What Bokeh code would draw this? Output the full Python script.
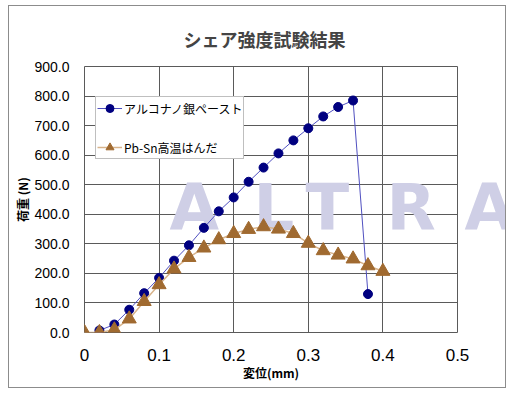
from bokeh.plotting import figure
from bokeh.models import Legend, LegendItem, FixedTicker, NumeralTickFormatter, Label, Range1d
from bokeh.embed import file_html
from bokeh.resources import INLINE

title_text = "シェア強度試験結果"
x_label = "変位(mm)"
y_label = "荷重 (N)"

ag_name = "アルコナノ銀ペースト"
ag_x = [0.02, 0.04, 0.06, 0.08, 0.10, 0.12, 0.14, 0.16, 0.18, 0.20,
        0.22, 0.24, 0.26, 0.28, 0.30, 0.32, 0.34, 0.36, 0.38]
ag_y = [7, 27, 77, 133, 185, 243, 295, 354, 410, 457,
        510, 558, 606, 650, 691, 731, 763, 785, 130]

pb_name = "Pb-Sn高温はんだ"
pb_x = [0.00, 0.02, 0.04, 0.06, 0.08, 0.10, 0.12, 0.14, 0.16, 0.18, 0.20,
        0.22, 0.24, 0.26, 0.28, 0.30, 0.32, 0.34, 0.36, 0.38, 0.40]
pb_y = [0, 0, 9, 46, 105, 162, 215, 254, 286, 314, 335,
        349, 358, 350, 335, 302, 277, 262, 249, 226, 207]

x_ticks = [0, 0.1, 0.2, 0.3, 0.4, 0.5]
y_ticks = [0, 100, 200, 300, 400, 500, 600, 700, 800, 900]
watermark_letters = ["A", "L", "T", "R", "A"]

JP = "Noto Sans CJK JP"
LAT = "Liberation Sans"

p = figure(width=498, height=383, output_backend="svg", toolbar_location=None,
           x_range=Range1d(0, 0.5), y_range=Range1d(0, 900),
           min_border_left=75, min_border_right=45, min_border_top=60, min_border_bottom=57)
p.styles = {"border": "1px solid #8c8c8c", "margin-left": "8px", "margin-top": "5px"}

p.title.text = title_text
p.title.text_font = JP
p.title.text_font_size = "18px"
p.title.text_font_style = "bold"
p.title.align = "left"
p.title.offset = 99
p.title.standoff = 30
p.title.text_line_height = 0.8

p.outline_line_color = "#5a5a5a"
p.outline_line_width = 1

for g in (p.xgrid, p.ygrid):
    g.grid_line_color = "#5a5a5a"
    g.grid_line_width = 1
p.xgrid.ticker = FixedTicker(ticks=x_ticks)
p.ygrid.ticker = FixedTicker(ticks=y_ticks)

p.xaxis.ticker = FixedTicker(ticks=x_ticks)
p.xaxis.formatter = NumeralTickFormatter(format="0.[0]")
p.yaxis.ticker = FixedTicker(ticks=y_ticks)
p.yaxis.formatter = NumeralTickFormatter(format="0.0")

for ax in (p.xaxis, p.yaxis):
    ax.axis_line_color = None
    ax.major_tick_line_color = None
    ax.minor_tick_line_color = None
    ax.major_tick_out = 0
    ax.major_tick_in = 0
    ax.minor_tick_out = 0
    ax.minor_tick_in = 0
    ax.major_label_text_font = LAT
    ax.major_label_text_color = "black"
    ax.axis_label_text_font = JP
    ax.axis_label_text_font_style = "bold"
    ax.axis_label_text_font_size = "12px"
    ax.axis_label_text_color = "black"

p.xaxis.major_label_text_font_size = "17px"
p.xaxis.major_label_standoff = 16
p.xaxis.axis_label = x_label
p.xaxis.axis_label_standoff = 0

p.yaxis.major_label_text_font_size = "14px"
p.yaxis.major_label_standoff = 15
p.yaxis.axis_label = y_label
p.yaxis.axis_label_standoff = 0

# watermark (offsets in screen pixels from the frame's left/bottom);
# the last letter lies beyond the frame, so it goes in the right-hand panel
wm_x = [85, 169, 221, 302]
for ch, sx in zip(watermark_letters[:4], wm_x):
    p.add_layout(Label(x=sx, y=125, x_units="screen", y_units="screen", text=ch,
                       text_font="DejaVu Sans", text_font_style="bold",
                       text_font_size="64px", text_color="#cfcfe6",
                       text_align="left", text_baseline="alphabetic", level="underlay"))
p.add_layout(Label(x=7, y=125, x_units="screen", y_units="screen", text=watermark_letters[4],
                   text_font="DejaVu Sans", text_font_style="bold",
                   text_font_size="64px", text_color="#cfcfe6",
                   text_align="left", text_baseline="alphabetic"), "right")

ag_line = p.line(ag_x, ag_y, line_color="#5050c0", line_width=1)
ag_pts = p.scatter(ag_x, ag_y, marker="circle", size=9, fill_color="#000080", line_color="#000080")

pb_line = p.line(pb_x, pb_y, line_color="#d8b48c", line_width=1.5)
pb_pts = p.scatter(pb_x, pb_y, marker="triangle", size=14, fill_color="#a06a30", line_color="#a06a30")

legend = Legend(items=[LegendItem(label=ag_name, renderers=[ag_line, ag_pts]),
                       LegendItem(label=pb_name, renderers=[pb_line, pb_pts])],
                location=(11, 173), margin=0, padding=1, spacing=19,
                glyph_width=25, glyph_height=20, label_height=20, label_standoff=2,
                label_text_font=JP, label_text_font_size="12px", label_text_color="black",
                border_line_color="#7f7f7f", border_line_width=1,
                background_fill_color="white", background_fill_alpha=1)
p.add_layout(legend)

open("out.html", "w").write(file_html(p, INLINE))
